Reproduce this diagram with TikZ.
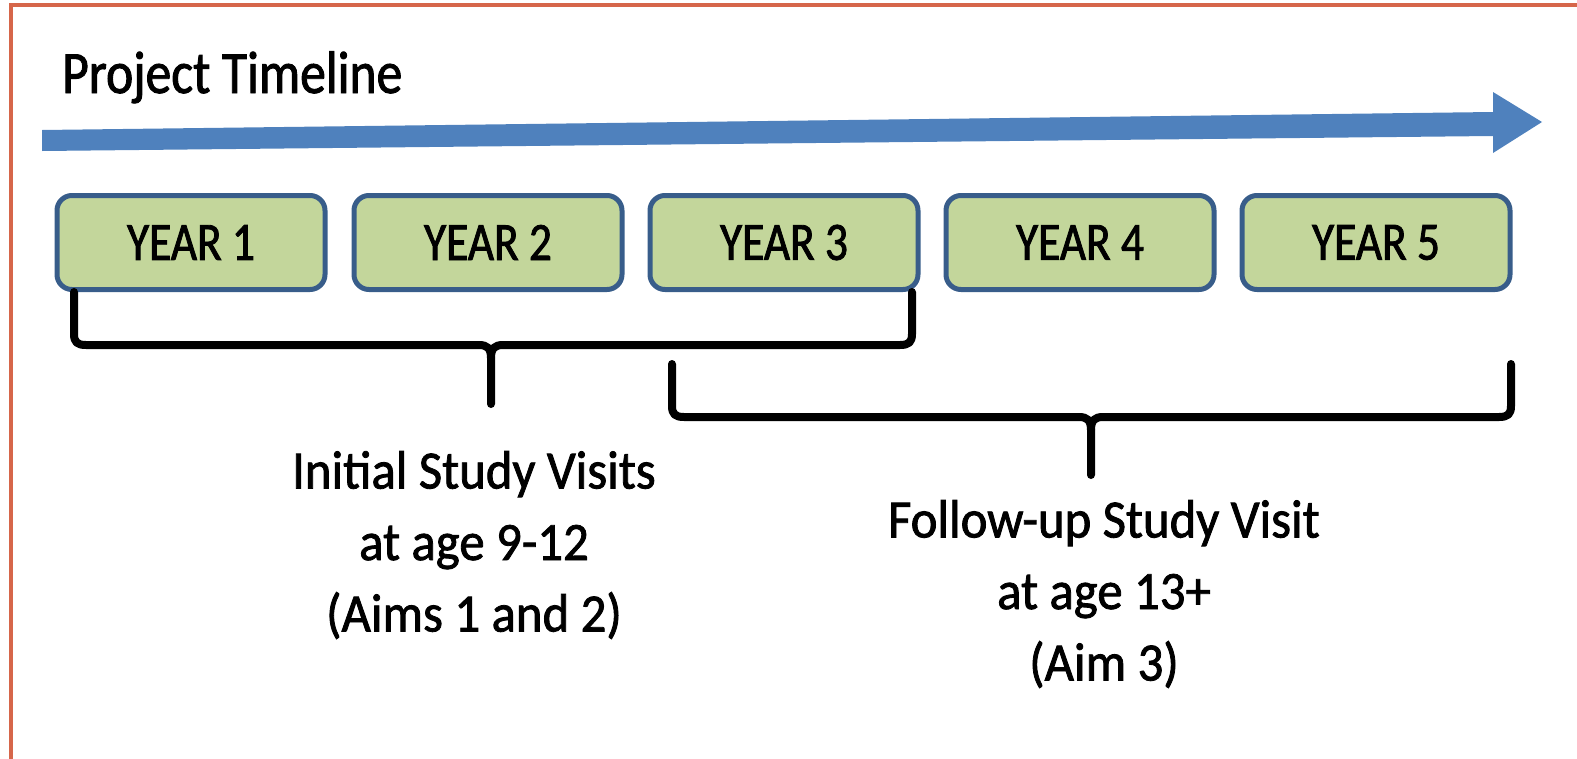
\documentclass[tikz,border=0pt]{standalone}
\usepackage{fontspec}
\setmainfont{Carlito}
\newfontfamily\ttlfont[FakeStretch=0.86,FakeBold=1.5]{Carlito}
\newfontfamily\boxfont[FakeStretch=0.84,FakeBold=1.5]{Carlito}
\newfontfamily\lblfont[FakeStretch=0.94,FakeBold=1.5]{Carlito}
\definecolor{framec}{RGB}{214,102,74}
\definecolor{arrowblue}{RGB}{79,129,189}
\definecolor{boxline}{RGB}{56,93,138}
\definecolor{boxfill}{RGB}{195,214,155}
\begin{document}
\begin{tikzpicture}[x=1pt,y=-1pt,
  frame/.style={draw=framec, line width=4pt},
  yearbox/.style={draw=boxline, fill=boxfill, line width=5pt, rounded corners=15pt,
    minimum width=268pt, minimum height=94pt, inner sep=0pt,
    font=\boxfont\fontsize{54}{56}\selectfont},
  lbl/.style={align=center, inner sep=0pt, font=\lblfont\fontsize{54}{71.5}\selectfont},
  ttl/.style={inner sep=0pt, font=\ttlfont\fontsize{60}{62}\selectfont},
  brace/.style={draw=black, line width=8pt, line join=round, line cap=round}
]
\useasboundingbox (0,0) rectangle (1577,758);
\begin{scope}
  \clip (0,0) rectangle (1577,758);
  \draw[frame] (11,800) -- (11,5) -- (1600,5);
\end{scope}

% timeline arrow
\fill[arrowblue] (42,130) -- (1493,112) -- (1493,92) -- (1542,122) -- (1493,153) -- (1493,136) -- (42,151) -- cycle;

\node[ttl, anchor=base west] (title) at (62,93) {Project Timeline};

% year boxes
\node[yearbox] (y1) at (191,242.5) {YEAR 1};
\node[yearbox] (y2) at (488,242.5) {YEAR 2};
\node[yearbox] (y3) at (784,242.5) {YEAR 3};
\node[yearbox] (y4) at (1080,242.5) {YEAR 4};
\node[yearbox] (y5) at (1376,242.5) {YEAR 5};

% braces
\coordinate (b1l) at (74,292);
\coordinate (b1m) at (491,404);
\coordinate (b1r) at (912,292);
\draw[brace] (b1l) -- (74,334) .. controls (74,342) and (77,345) .. (86,345) -- (479,345)
  .. controls (487,345) and (491,348) .. (491,358) -- (b1m);
\draw[brace] (491,358) .. controls (491,348) and (495,345) .. (503,345) -- (900,345)
  .. controls (909,345) and (912,342) .. (912,334) -- (b1r);

\coordinate (b2l) at (672,364);
\coordinate (b2m) at (1091,475);
\coordinate (b2r) at (1511,364);
\draw[brace] (b2l) -- (672,406) .. controls (672,414) and (675,417) .. (684,417) -- (1079,417)
  .. controls (1087,417) and (1091,420) .. (1091,430) -- (b2m);
\draw[brace] (1091,430) .. controls (1091,420) and (1095,417) .. (1103,417) -- (1499,417)
  .. controls (1508,417) and (1511,414) .. (1511,406) -- (b2r);

% labels
\node[lbl] (l1) at (474,545) {Initial Study Visits\\at age 9-12\\(Aims 1 and 2)};
\node[lbl] (l2) at (1104,594) {Follow-up Study Visit\\at age 13+\\(Aim 3)};
\end{tikzpicture}
\end{document}
